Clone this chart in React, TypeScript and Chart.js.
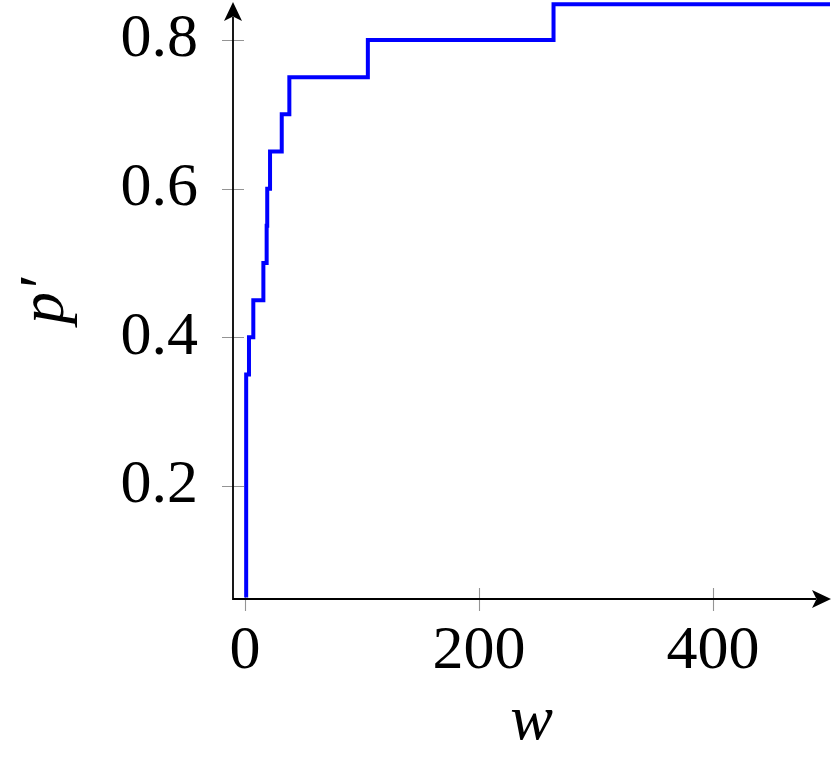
import React, { useEffect, useRef } from "react";
import { Chart, registerables } from "chart.js";

Chart.register(...registerables);

// Step function p'(w): the value jumps to pValues[i] at wValues[i]
const wValues = [1, 1, 3.4, 7.1, 15.7, 18.5, 19, 21.4, 31.4, 37.9, 105, 263.7, 500];
const pValues = [0.05, 0.35, 0.4, 0.45, 0.5, 0.55, 0.6, 0.65, 0.7, 0.75, 0.8, 0.848, 0.848];

const xTicks = [0, 200, 400];
const yTicks = [0.2, 0.4, 0.6, 0.8];
const xMin = -10.26;
const xMax = 500;
const yMin = 0.048;
const yMax = 0.8498;

const xLabel = "w";
const yLabel = "p\u2032";

const FONT = "'Liberation Serif', 'Times New Roman', serif";

const axesPlugin = {
  id: "pgfAxes",
  beforeDatasetsDraw(chart: any) {
    const { ctx, chartArea: ca, scales } = chart;
    const xs = scales.x;
    const ys = scales.y;
    const ax = ca.left;
    const ay = ca.bottom;
    ctx.save();
    // tick marks
    ctx.strokeStyle = "rgba(0,0,0,0.42)";
    ctx.lineWidth = 1.1;
    ctx.beginPath();
    for (const t of ys.ticks) {
      const py = Math.round(ys.getPixelForValue(t.value)) + 0.5;
      ctx.moveTo(ax - 11, py);
      ctx.lineTo(ax + 11, py);
    }
    for (const t of xs.ticks) {
      const px = Math.round(xs.getPixelForValue(t.value)) + 0.5;
      ctx.moveTo(px, ay - 11);
      ctx.lineTo(px, ay + 12);
    }
    ctx.stroke();

    // axis lines
    ctx.strokeStyle = "#000";
    ctx.fillStyle = "#000";
    ctx.lineWidth = 1.8;
    ctx.beginPath();
    ctx.moveTo(ax, ay + 0.9);
    ctx.lineTo(ax, ca.top + 14);
    ctx.moveTo(ax - 0.9, ay);
    ctx.lineTo(ca.right - 14, ay);
    ctx.stroke();

    // arrow heads (stealth-like)
    const L = 19, H = 9, N = 4.5;
    const tipX = ca.right + 1;
    ctx.beginPath();
    ctx.moveTo(tipX, ay);
    ctx.lineTo(tipX - L, ay - H);
    ctx.lineTo(tipX - L + N, ay);
    ctx.lineTo(tipX - L, ay + H);
    ctx.closePath();
    ctx.fill();
    const tipY = ca.top - 1;
    ctx.beginPath();
    ctx.moveTo(ax, tipY);
    ctx.lineTo(ax - H, tipY + L);
    ctx.lineTo(ax, tipY + L - N);
    ctx.lineTo(ax + H, tipY + L);
    ctx.closePath();
    ctx.fill();
    ctx.restore();
  },
};

export default function App() {
  const ref = useRef<HTMLCanvasElement | null>(null);

  useEffect(() => {
    if (!ref.current) return;
    const chart = new Chart(ref.current, {
      type: "line",
      data: {
        datasets: [
          {
            data: wValues.map((w, i) => ({ x: w, y: pValues[i] })),
            borderColor: "#0000ff",
            backgroundColor: "#0000ff",
            borderWidth: 4,
            stepped: "before",
            pointRadius: 0,
            fill: false,
            clip: false,
            borderCapStyle: "butt",
            borderJoinStyle: "miter",
          } as any,
        ],
      },
      options: {
        animation: false,
        responsive: false,
        devicePixelRatio: 1,
        layout: { padding: { top: 3, right: 1, left: 0, bottom: 0 } },
        plugins: { legend: { display: false }, tooltip: { enabled: false } },
        scales: {
          x: {
            type: "linear",
            min: xMin,
            max: xMax,
            afterBuildTicks: (s: any) => {
              s.ticks = xTicks.map((v) => ({ value: v }));
            },
            afterFit: (s: any) => {
              s.height = 163;
              s.paddingLeft = 0;
              s.paddingRight = 0;
            },
            grid: { display: false, drawTicks: false },
            border: { display: false },
            ticks: {
              font: { family: FONT, size: 62 },
              color: "#000",
              padding: 16,
              maxRotation: 0,
              autoSkip: false,
              callback: (v: any) => String(v),
            },
            title: {
              display: true,
              text: xLabel,
              color: "#000",
              font: { family: FONT, size: 64, style: "italic" },
              padding: { top: 0, bottom: 1 },
            },
          },
          y: {
            type: "linear",
            min: yMin,
            max: yMax,
            afterBuildTicks: (s: any) => {
              s.ticks = yTicks.map((v) => ({ value: v }));
            },
            afterFit: (s: any) => {
              s.width = 233;
              s.paddingTop = 0;
              s.paddingBottom = 0;
            },
            grid: { display: false, drawTicks: false },
            border: { display: false },
            ticks: {
              font: { family: FONT, size: 62 },
              color: "#000",
              padding: 35,
              autoSkip: false,
              callback: (v: any) => Number(v).toFixed(1),
            },
            title: {
              display: true,
              text: yLabel,
              color: "#000",
              font: { family: FONT, size: 64, style: "italic" },
              padding: { top: 8, bottom: 0 },
            },
          },
        },
      },
      plugins: [axesPlugin],
    });
    return () => chart.destroy();
  }, []);

  return (
    <div style={{ position: "absolute", left: 0, top: 0, width: 831, height: 762, background: "#fff" }}>
      <canvas ref={ref} width={831} height={762} style={{ display: "block", width: 831, height: 762 }} />
    </div>
  );
}
